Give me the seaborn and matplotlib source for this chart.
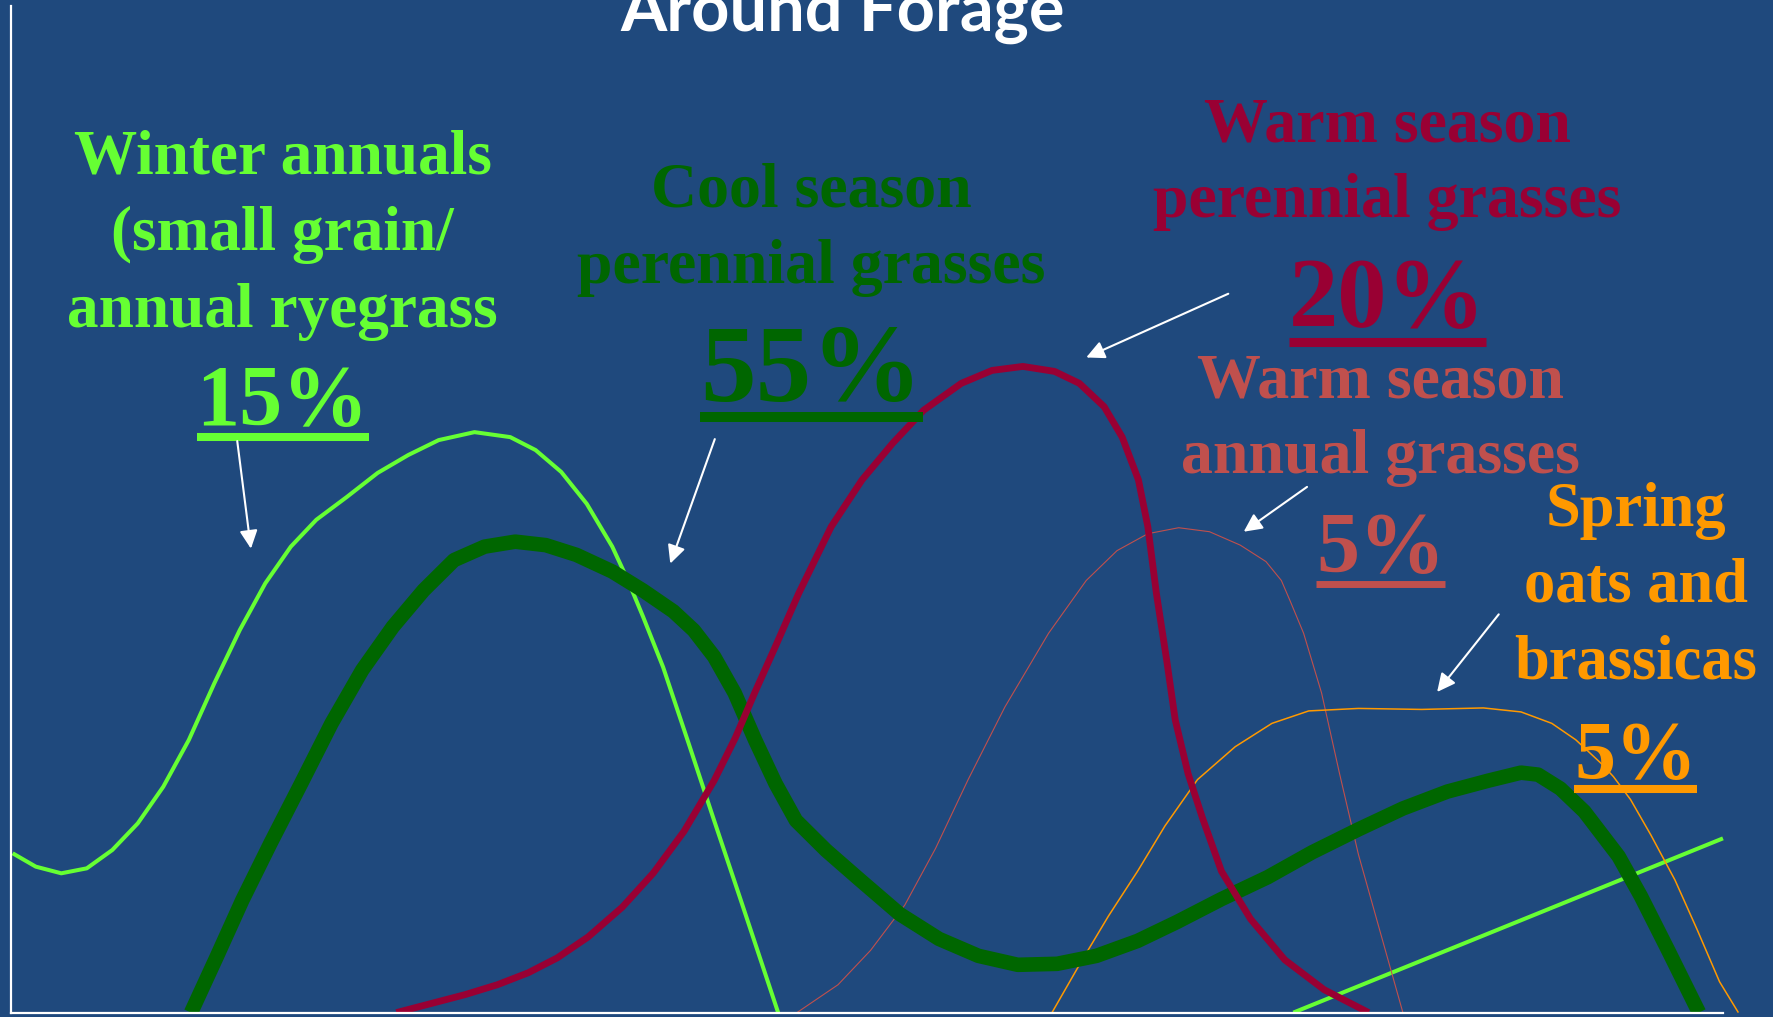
import matplotlib
matplotlib.use("Agg")
import matplotlib.pyplot as plt
import seaborn as sns

# ---- data: season position (0-100) vs relative forage production (0-100) ----
categories = [
    "Winter annuals\n(small grain/\nannual ryegrass",
    "Cool season\nperennial grasses",
    "Warm season\nperennial grasses",
    "Warm season\nannual grasses",
    "Spring\noats and\nbrassicas",
]
shares = [15, 55, 20, 5, 5]

winter_x = [0.08, 1.43, 2.92, 4.41, 5.90, 7.39, 8.88, 10.37, 11.86, 13.35,
            14.84, 16.33, 17.82, 19.61, 21.40, 23.19, 24.97, 27.06, 29.15,
            30.63, 32.13, 33.62, 35.11, 36.0, 36.9, 38.08, 39.57, 41.06,
            42.56, 44.8]
winter_y = [16.0, 14.66, 13.99, 14.49, 16.33, 19.01, 22.69, 27.38, 33.07,
            38.43, 43.12, 46.8, 49.5, 51.8, 54.2, 56.0, 57.5, 58.3, 57.8, 56.5,
            54.3, 51.1, 46.8, 43.5, 39.8, 34.7, 27.05, 19.3, 11.6, 0]
winter_late_x = [74.9, 100]
winter_late_y = [0, 17.5]

cool_x = [10.5, 12.0, 13.5, 15.14, 16.93, 18.71, 20.50, 22.29, 24.08, 25.87,
          27.65, 29.44, 31.23, 33.02, 35.11, 36.9, 38.68, 39.87, 41.06, 42.26,
          43.45, 44.65, 45.84, 47.6, 49.6, 51.9, 54.2, 56.5, 58.8, 61.1, 63.4,
          65.8, 68.1, 70.7, 73.4, 76.0, 78.7, 81.3, 83.9, 86.3, 88.2, 89.2,
          90.5, 91.9, 93.9, 95.2, 96.8, 98.6]
cool_y = [0, 5.6, 11.3, 17.0, 23.0, 29.05, 34.4, 38.75, 42.4, 45.45, 46.8,
          47.3, 46.95, 45.97, 44.3, 42.4, 40.3, 38.4, 35.75, 32.1, 27.4, 23.0,
          19.3, 16.3, 13.3, 9.9, 7.4, 5.7, 4.8, 4.9, 5.7, 7.2, 9.1, 11.4, 13.6,
          16.1, 18.4, 20.5, 22.2, 23.3, 24.1, 23.9, 22.5, 20.2, 15.7, 11.7,
          6.25, 0]

warm_per_x = [22.5, 24.5, 26.5, 28.4, 30.2, 31.9, 33.7, 35.7, 37.5, 39.3,
              41.06, 42.3, 43.45, 44.7, 46.0, 47.9, 49.7, 51.5, 53.3, 55.5,
              57.3, 59.1, 60.95, 62.4, 63.85, 64.9, 65.85, 66.4, 66.9, 67.5,
              68.0, 68.75, 69.6, 70.7, 72.4, 74.4, 76.7, 79.3]
warm_per_y = [0, 0.9, 1.8, 2.8, 4.0, 5.5, 7.6, 10.6, 14.0, 18.2, 23.3, 27.6,
              32.2, 37.0, 42.1, 48.8, 53.5, 57.2, 60.5, 63.2, 64.5, 64.9, 64.4,
              63.2, 60.85, 57.8, 53.5, 48.8, 42.1, 35.4, 29.4, 24.0, 19.5, 14.2,
              9.4, 5.3, 2.3, 0]

warm_ann_x = [45.9, 48.3, 50.2, 52.2, 54.0, 55.9, 58.05, 60.6, 62.8, 64.6,
              66.4, 68.2, 70.0, 71.8, 73.3, 74.2, 74.7, 75.5, 76.55, 77.6,
              78.7, 80.0, 81.3]
warm_ann_y = [0, 2.8, 6.25, 10.8, 16.5, 23.4, 30.7, 38.1, 43.4, 46.4, 48.1,
              48.7, 48.3, 46.95, 45.3, 43.4, 41.4, 38.1, 32.1, 24.0, 15.9, 7.95,
              0]

oats_x = [60.8, 62.5, 64.1, 65.8, 67.4, 69.3, 71.5, 73.65, 75.8, 78.7, 82.4,
          86.0, 88.2, 90.0, 91.4, 92.9, 93.6, 94.6, 95.8, 97.2, 98.5, 99.8,
          100.9]
oats_y = [0, 5.1, 9.7, 14.2, 18.75, 23.4, 26.7, 29.05, 30.3, 30.55, 30.45,
          30.6, 30.2, 29.05, 27.4, 25.0, 23.7, 21.4, 17.8, 13.3, 8.3, 3.1, 0]

# ---- style ----
BG = "#1F497D"
GREEN_LIGHT = "#66FF33"
GREEN_DARK = "#006600"
CRIMSON = "#990033"
BRICK = "#C0504D"
ORANGE = "#FF9900"
SERIF = ["Liberation Serif", "DejaVu Serif"]

sns.set_style("white", {"axes.facecolor": BG, "figure.facecolor": BG,
                        "axes.edgecolor": "white"})
plt.rcParams["font.family"] = ["Lato", "DejaVu Sans"]

fig = plt.figure(figsize=(17.74, 10.17), dpi=100, facecolor=BG)
ax = fig.add_axes([11.3 / 1774, 4.4 / 1017, 1745.9 / 1774, 1006.6 / 1017])
ax.set_facecolor(BG)
ax.set_xlim(0, 102)
ax.set_ylim(0, 101.1)

curves = [
    (winter_x, winter_y, GREEN_LIGHT, 2.9),
    (winter_late_x, winter_late_y, GREEN_LIGHT, 2.9),
    (warm_ann_x, warm_ann_y, BRICK, 0.8),
    (oats_x, oats_y, ORANGE, 1.1),
    (cool_x, cool_y, GREEN_DARK, 10.5),
    (warm_per_x, warm_per_y, CRIMSON, 4.9),
]
for xs, ys, col, lw in curves:
    sns.lineplot(x=xs, y=ys, sort=False, estimator=None, color=col,
                 linewidth=lw, ax=ax, solid_joinstyle="round",
                 solid_capstyle="butt")

for side in ["top", "right"]:
    ax.spines[side].set_visible(False)
for side in ["left", "bottom"]:
    ax.spines[side].set_color("white")
    ax.spines[side].set_linewidth(1.6)
ax.spines["bottom"].set_bounds(0, 100)
ax.set_xticks([])
ax.set_yticks([])
ax.set_xlabel("")
ax.set_ylabel("")

# ---- labels ----
label_colors = [GREEN_LIGHT, GREEN_DARK, CRIMSON, BRICK, ORANGE]
label_x = [15.86, 46.75, 80.4, 80.0, 94.9]
label_baselines = [
    [84.3, 76.6, 68.9],
    [81.0, 73.3],
    [87.5, 79.9],
    [61.8, 54.2],
    [48.9, 41.25, 33.6],
]
label_sizes = [45.5, 46, 46, 46, 45]
pct_baseline = [59.0, 61.4, 68.9, 44.3, 23.6]
pct_sizes = [62, 80, 71, 62, 59]
underline_y = [57.8, 59.8, 67.4, 43.0, 22.5]
underline_w = [5.8, 7.2, 6.5, 5.0, 5.8]

pct_texts = []
for i, cat in enumerate(categories):
    for line, yb in zip(cat.split("\n"), label_baselines[i]):
        ax.text(label_x[i], yb, line, ha="center", va="baseline",
                fontsize=label_sizes[i], fontweight="bold", family=SERIF,
                color=label_colors[i])
    t = ax.text(label_x[i], pct_baseline[i], f"{shares[i]}%", ha="center",
                va="baseline", fontsize=pct_sizes[i], fontweight="bold",
                family=SERIF, color=label_colors[i])
    pct_texts.append(t)

fig.canvas.draw()
inv = ax.transData.inverted()
for i, t in enumerate(pct_texts):
    bb = t.get_window_extent()
    x0 = inv.transform((bb.x0, 0))[0]
    x1 = inv.transform((bb.x1, 0))[0]
    ax.plot([x0, x1], [underline_y[i], underline_y[i]], color=label_colors[i],
            linewidth=underline_w[i], solid_capstyle="butt")

# ---- pointer arrows (tail -> head) ----
arrow_tails = [(13.2, 57.4), (41.1, 57.6), (71.1, 72.2), (75.7, 52.8), (86.9, 40.0)]
arrow_heads = [(14.0, 46.6), (38.5, 45.1), (62.8, 65.8), (72.0, 48.3), (83.3, 32.2)]
for tail, head in zip(arrow_tails, arrow_heads):
    ax.annotate("", xy=head, xytext=tail,
                arrowprops=dict(arrowstyle="-|>,head_length=0.55,head_width=0.27",
                                color="white", lw=1.5, mutation_scale=20,
                                shrinkA=0, shrinkB=0))

# ---- title (runs off the top edge) ----
fig.text(843 / 1774, 1 - 31 / 1017, "Around Forage", ha="center", va="baseline",
         fontsize=48, fontweight="bold", color="white")

fig.savefig("out.png", dpi=100, facecolor=BG)
